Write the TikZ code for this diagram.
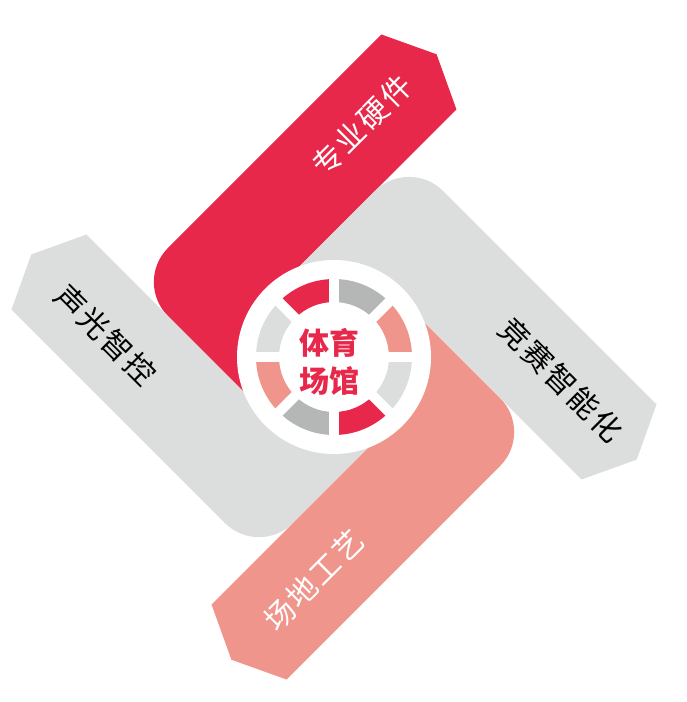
\documentclass[tikz,border=0pt]{standalone}
\usepackage{fontspec}
\newfontfamily\cjk{Noto Sans CJK SC}
\newfontfamily\cjklabel[LetterSpace=8]{Noto Sans CJK SC}

\definecolor{hubred}{HTML}{E8284A}
\definecolor{hubpink}{HTML}{F0958B}
\definecolor{hubgray}{HTML}{DCDDDD}
\definecolor{hubdark}{HTML}{B5B6B6}

\begin{document}
\begin{tikzpicture}[
  x=1pt, y=1pt,
  declare function={inr=88.4; outr=194.5; tipc=261.6; tipp=286.6; axm=141.5; cornr=48;},
  armlabel/.style={font=\cjklabel\fontsize{30}{30}\selectfont, inner sep=0pt},
  ]
\useasboundingbox (0,0) rectangle (686,-702);
\coordinate (hub) at (334,-357);

% four arms, each one turned a quarter further
\foreach \ang/\col in {0/hubred, 90/hubgray, 180/hubpink, 270/hubgray} {
  \fill[\col, shift={(hub)}, rotate=45+\ang]
    (-inr,0) -- (0,0) -- (0,inr) -- (tipc,inr) -- (tipp,axm) -- (tipc,outr)
    -- (-inr+cornr,outr) arc[start angle=90, end angle=180, radius=cornr] -- cycle;
}

\node[armlabel, text=white, rotate=45]  (hardware) at (362,-125) {专业硬件};
\node[armlabel, text=black, rotate=-45] (lighting) at (106,-335) {声光智控};
\node[armlabel, text=black, rotate=-45] (contest)  at (561,-380) {竞赛智能化};
\node[armlabel, text=white, rotate=45]  (venue)    at (314,-580) {场地工艺};

% the hub
\fill[white] (hub) circle[radius=97];
\foreach \i/\c in {0/hubpink, 1/hubdark, 2/hubred, 3/hubgray, 4/hubpink, 5/hubdark, 6/hubred, 7/hubgray}
  \fill[\c] (hub) ++(\i*45:55) arc[start angle=\i*45, end angle=\i*45+45, radius=55]
    -- ++(\i*45+45:23) arc[start angle=\i*45+45, end angle=\i*45, radius=78] -- cycle;
\foreach \ang in {0,45,90,135}
  \draw[white, line width=10pt] (hub) ++(\ang:84) -- ++(\ang+180:168);

\node[text=hubred, font=\cjk\bfseries\fontsize{30}{38}\selectfont, align=center, inner sep=0pt]
  (title) at (329,-362) {体育\\场馆};
\end{tikzpicture}
\end{document}
